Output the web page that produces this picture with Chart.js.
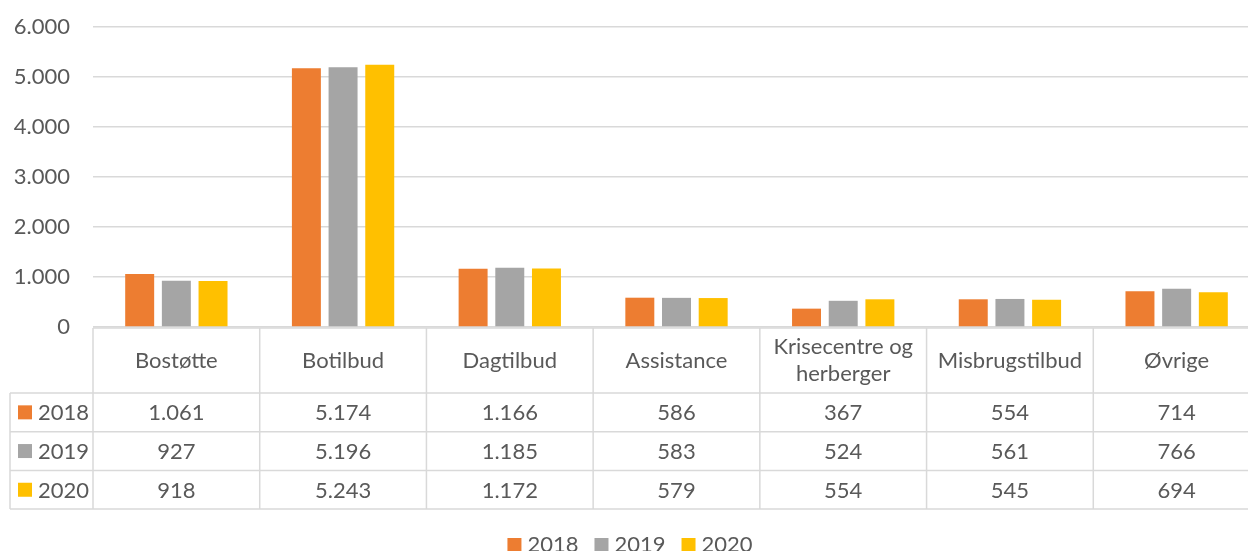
<!DOCTYPE html>
<html>
<head>
<meta charset="utf-8">
<script src="https://cdn.jsdelivr.net/npm/chart.js@4"></script>
<style>
  html, body { margin: 0; padding: 0; background: #fff; overflow: hidden; }
  #wrap { position: relative; width: 1262px; height: 551px; }
</style>
</head>
<body>
<div id="wrap"><canvas id="chart"></canvas></div>
<script>
const categories = ['Bostøtte', 'Botilbud', 'Dagtilbud', 'Assistance', 'Krisecentre og herberger', 'Misbrugstilbud', 'Øvrige'];
const years = ['2018', '2019', '2020'];
const values2018 = [1061, 5174, 1166, 586, 367, 554, 714];
const values2019 = [927, 5196, 1185, 583, 524, 561, 766];
const values2020 = [918, 5243, 1172, 579, 554, 545, 694];
const colors = ['#ED7D31', '#A5A5A5', '#FFC000'];
const yMax = 6000;
const yStep = 1000;

const FONT = 'Lato, "Liberation Sans", sans-serif';
const FSIZE = 22;
const TEXT = '#595959';
const LINE = '#D9D9D9';

function fmt(v) {
    return String(v).replace(/\B(?=(\d{3})+(?!\d))/g, '.');
}

function wrap(ctx, text, maxW) {
    const words = text.split(' ');
    const lines = [];
    let cur = '';
    words.forEach(w => {
        const t = cur ? cur + ' ' + w : w;
        if (cur && ctx.measureText(t).width > maxW) {
            lines.push(cur);
            cur = w;
        } else {
            cur = t;
        }
    });
    if (cur) lines.push(cur);
    return lines;
}

// draws the data table under the bars and the legend
const dataTable = {
    id: 'dataTable',
    afterDraw(chart) {
        const ctx = chart.ctx;
        const area = chart.chartArea;
        const n = categories.length;
        const cellW = (area.right - area.left) / n;
        const top = area.bottom + 1;
        const headH = 65;
        const rowH = 38.7;
        const labelLeft = 10;
        const rowsTop = top + headH;
        const bottom = rowsTop + rowH * years.length;

        ctx.save();
        ctx.strokeStyle = LINE;
        ctx.lineWidth = 1.5;
        ctx.beginPath();
        for (let i = 0; i <= n; i++) {
            const x = area.left + i * cellW;
            ctx.moveTo(x, top);
            ctx.lineTo(x, bottom);
        }
        ctx.moveTo(labelLeft, rowsTop);
        ctx.lineTo(labelLeft, bottom);
        ctx.moveTo(area.left, top);
        ctx.lineTo(area.right, top);
        for (let r = 0; r <= years.length; r++) {
            const y = rowsTop + r * rowH;
            ctx.moveTo(labelLeft, y);
            ctx.lineTo(area.right, y);
        }
        ctx.stroke();

        ctx.font = FSIZE + 'px ' + FONT;
        ctx.fillStyle = TEXT;
        ctx.textAlign = 'center';
        ctx.textBaseline = 'middle';
        const lh = 27;
        categories.forEach((c, i) => {
            const cx = area.left + (i + 0.5) * cellW;
            const lines = wrap(ctx, c, cellW - 6);
            const y0 = top + headH / 2 - (lines.length - 1) * lh / 2;
            lines.forEach((l, k) => ctx.fillText(l, cx, y0 + k * lh));
        });

        chart.data.datasets.forEach((ds, r) => {
            const cy = rowsTop + (r + 0.5) * rowH;
            ctx.fillStyle = ds.backgroundColor;
            ctx.fillRect(18, cy - 7, 14, 14);
            ctx.fillStyle = TEXT;
            ctx.textAlign = 'left';
            ctx.fillText(ds.label, 38, cy + 1);
            ctx.textAlign = 'center';
            ds.data.forEach((v, i) => {
                ctx.fillText(fmt(v), area.left + (i + 0.5) * cellW, cy + 1);
            });
        });

        // legend
        const ly = 545;
        const gap = 16;
        let total = 0;
        const widths = chart.data.datasets.map(ds => ctx.measureText(ds.label).width);
        widths.forEach(w => { total += 14 + 6 + w; });
        total += gap * (widths.length - 1);
        let x = 630 - total / 2;
        ctx.textAlign = 'left';
        chart.data.datasets.forEach((ds, i) => {
            ctx.fillStyle = ds.backgroundColor;
            ctx.fillRect(x, ly - 7, 14, 14);
            ctx.fillStyle = TEXT;
            ctx.fillText(ds.label, x + 20, ly);
            x += 20 + widths[i] + gap;
        });
        ctx.restore();
    }
};

new Chart(document.getElementById('chart'), {
    type: 'bar',
    data: {
        labels: categories,
        datasets: [
            { label: years[0], data: values2018, backgroundColor: colors[0] },
            { label: years[1], data: values2019, backgroundColor: colors[1] },
            { label: years[2], data: values2020, backgroundColor: colors[2] }
        ]
    },
    options: {
        responsive: true,
        maintainAspectRatio: false,
        animation: false,
        layout: { padding: { top: 27, bottom: 42, left: 0, right: 2 } },
        datasets: { bar: { categoryPercentage: 0.66, barPercentage: 0.79 } },
        plugins: {
            legend: { display: false },
            tooltip: { enabled: false }
        },
        scales: {
            x: {
                grid: { display: false },
                border: { display: false },
                ticks: { display: false },
                afterFit(s) { s.height = 182; }
            },
            y: {
                min: 0,
                max: yMax,
                ticks: {
                    stepSize: yStep,
                    padding: 23,
                    color: TEXT,
                    font: { family: FONT, size: FSIZE },
                    callback: v => fmt(v)
                },
                grid: { color: LINE, lineWidth: 1.5, drawTicks: false },
                border: { display: false },
                afterFit(s) {
                    s.width = 93;
                    s.paddingTop = 0;
                    s.paddingBottom = 0;
                }
            }
        }
    },
    plugins: [dataTable]
});
</script>
</body>
</html>
